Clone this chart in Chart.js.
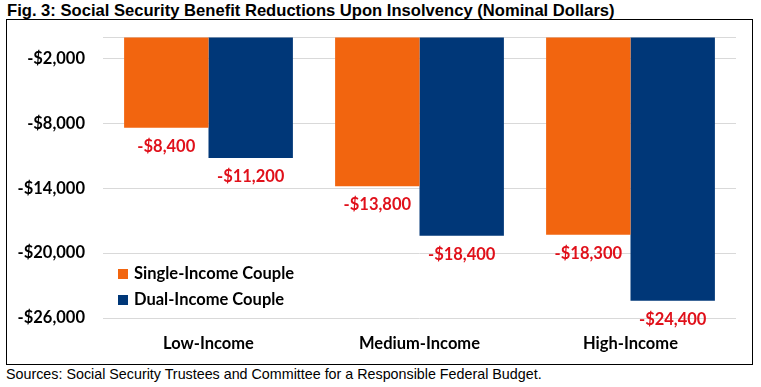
<!DOCTYPE html>
<html>
<head>
<meta charset="utf-8">
<script src="https://cdn.jsdelivr.net/npm/chart.js@4.4.1/dist/chart.umd.min.js"></script>
<style>
  html, body { margin: 0; padding: 0; background: #fff; }
  body { width: 761px; height: 387px; position: relative; overflow: hidden; }
  #title {
    position: absolute; left: 7px; top: 1px;
    font: bold 16.6px "Liberation Sans", Arial, sans-serif; color: #000;
  }
  #box {
    position: absolute; left: 6px; top: 19px; width: 745px; height: 344px;
    border: 1.5px solid #000;
  }
  #source {
    position: absolute; left: 6px; top: 366px;
    font: 14.3px "Liberation Sans", Arial, sans-serif; color: #000;
  }
</style>
</head>
<body>
<div id="title">Fig. 3: Social Security Benefit Reductions Upon Insolvency (Nominal Dollars)</div>
<div id="box"><canvas id="chart" width="745" height="344"></canvas></div>
<div id="source">Sources: Social Security Trustees and Committee for a Responsible Federal Budget.</div>
<script>
const categories = ['Low-Income', 'Medium-Income', 'High-Income'];
const singleIncome = [-8400, -13800, -18300];
const dualIncome = [-11200, -18400, -24400];
const yTicks = [-26000, -20000, -14000, -8000, -2000, 0];

const ORANGE = '#F2650F';
const BLUE = '#003778';
const RED = '#E0101A';
const LABEL_FONT = 'bold 16.5px Lato, "Open Sans", sans-serif';

const money = v => (v < 0 ? '-$' : '$') + Math.abs(v).toLocaleString('en-US');

// value labels under each bar end
const valueLabels = {
    id: 'valueLabels',
    afterDatasetsDraw(chart) {
        const ctx = chart.ctx;
        ctx.save();
        ctx.font = LABEL_FONT;
        ctx.fillStyle = RED;
        ctx.textAlign = 'center';
        ctx.textBaseline = 'middle';
        chart.data.datasets.forEach((ds, i) => {
            chart.getDatasetMeta(i).data.forEach((bar, j) => {
                ctx.fillText(money(ds.data[j]), bar.x, bar.y + 19);
            });
        });
        ctx.restore();
    }
};

// legend drawn inside the plot, bottom-left
const innerLegend = {
    id: 'innerLegend',
    afterDraw(chart) {
        const ctx = chart.ctx;
        const area = chart.chartArea;
        ctx.save();
        ctx.font = LABEL_FONT;
        ctx.textBaseline = 'middle';
        chart.data.datasets.forEach((ds, i) => {
            const y = area.bottom - 44 + i * 26;
            const x = area.left + 15;
            ctx.fillStyle = ds.backgroundColor;
            ctx.fillRect(x, y - 5, 10, 10);
            ctx.fillStyle = '#000';
            ctx.fillText(ds.label, x + 16, y);
        });
        ctx.restore();
    }
};

new Chart('chart', {
    type: 'bar',
    data: {
        labels: categories,
        datasets: [
            { label: 'Single-Income Couple', data: singleIncome, backgroundColor: ORANGE },
            { label: 'Dual-Income Couple', data: dualIncome, backgroundColor: BLUE }
        ]
    },
    options: {
        responsive: false,
        animation: false,
        layout: { padding: { left: 0, top: 17, right: 16, bottom: 0 } },
        datasets: { bar: { categoryPercentage: 0.8, barPercentage: 1.0 } },
        plugins: {
            legend: { display: false },
            tooltip: { enabled: false }
        },
        scales: {
            x: {
                grid: { display: false, drawTicks: false },
                border: { display: false },
                ticks: { color: '#000', padding: 16, font: { family: 'Lato', size: 16.5, weight: 'bold' } },
                afterFit(scale) { scale.height = 46; }
            },
            y: {
                min: -26000,
                max: 0,
                afterBuildTicks(scale) { scale.ticks = yTicks.map(v => ({ value: v })); },
                grid: { color: '#D9D9D9', lineWidth: 1, drawTicks: false },
                border: { display: false },
                ticks: {
                    color: '#000',
                    padding: 18,
                    font: { family: 'Lato', size: 16.5, weight: 'bold' },
                    callback: v => (v === 0 ? '' : money(v))
                },
                afterFit(scale) {
                    scale.width = 96;
                    scale.paddingTop = 0;
                    scale.paddingBottom = 0;
                }
            }
        }
    },
    plugins: [valueLabels, innerLegend]
});
</script>
</body>
</html>
